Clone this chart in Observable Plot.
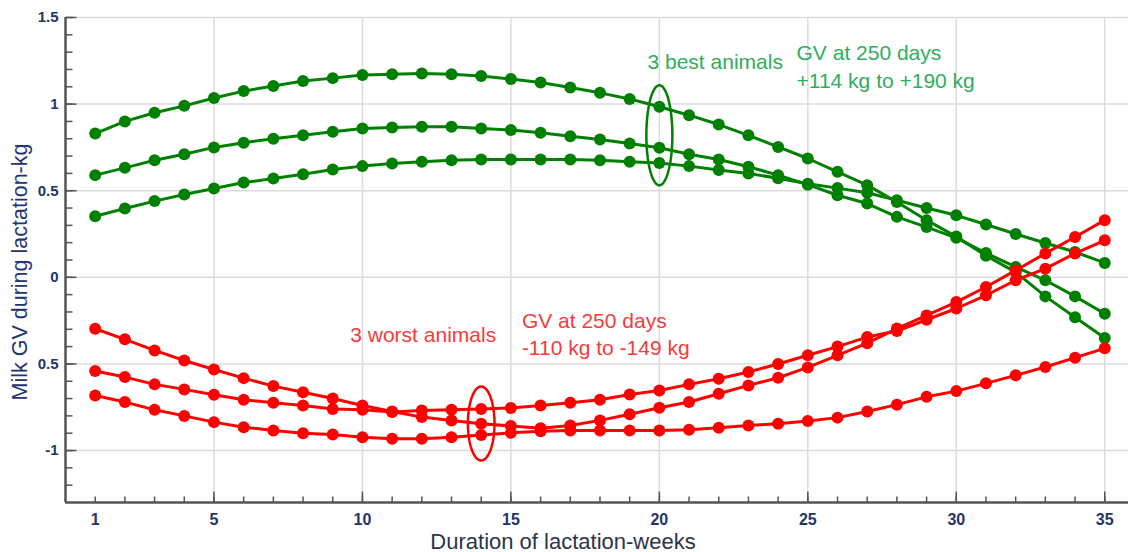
<!DOCTYPE html>
<html>
<head>
<meta charset="utf-8">
<script src="https://cdn.jsdelivr.net/npm/d3@7"></script>
<script src="https://cdn.jsdelivr.net/npm/@observablehq/plot@0.6"></script>
<style>
  html, body { margin: 0; padding: 0; background: #ffffff; }
  #chart svg { display: block; }
</style>
</head>
<body>
<div id="chart"></div>
<script>
// ---- Data ----
const weeks = [1,2,3,4,5,6,7,8,9,10,11,12,13,14,15,16,17,18,19,20,21,22,23,24,25,26,27,28,29,30,31,32,33,34,35];

const best1 = [0.83,0.90,0.95,0.99,1.035,1.075,1.105,1.133,1.15,1.168,1.173,1.177,1.173,1.162,1.145,1.125,1.096,1.065,1.03,0.985,0.936,0.882,0.82,0.753,0.686,0.609,0.532,0.435,0.33,0.235,0.125,0.03,-0.11,-0.23,-0.35];
const best2 = [0.59,0.632,0.676,0.711,0.75,0.777,0.80,0.82,0.84,0.859,0.865,0.869,0.869,0.859,0.85,0.834,0.815,0.796,0.772,0.748,0.711,0.68,0.638,0.59,0.535,0.474,0.426,0.349,0.29,0.228,0.14,0.06,-0.017,-0.11,-0.21];
const best3 = [0.353,0.397,0.44,0.478,0.513,0.547,0.57,0.595,0.622,0.642,0.657,0.667,0.676,0.68,0.68,0.68,0.68,0.676,0.667,0.66,0.642,0.62,0.60,0.572,0.54,0.515,0.488,0.445,0.40,0.358,0.305,0.25,0.198,0.146,0.083];

const worst1 = [-0.297,-0.358,-0.422,-0.48,-0.532,-0.582,-0.628,-0.663,-0.70,-0.74,-0.775,-0.807,-0.826,-0.846,-0.858,-0.872,-0.855,-0.826,-0.79,-0.753,-0.72,-0.672,-0.624,-0.58,-0.52,-0.45,-0.38,-0.296,-0.22,-0.143,-0.056,0.04,0.138,0.233,0.33];
const worst2 = [-0.541,-0.576,-0.618,-0.647,-0.678,-0.707,-0.724,-0.74,-0.76,-0.765,-0.778,-0.769,-0.765,-0.76,-0.754,-0.74,-0.724,-0.707,-0.676,-0.653,-0.618,-0.586,-0.547,-0.50,-0.45,-0.40,-0.345,-0.31,-0.245,-0.18,-0.104,-0.017,0.05,0.138,0.214];
const worst3 = [-0.682,-0.72,-0.765,-0.80,-0.836,-0.865,-0.884,-0.90,-0.907,-0.923,-0.932,-0.932,-0.923,-0.91,-0.898,-0.888,-0.884,-0.884,-0.884,-0.884,-0.88,-0.869,-0.855,-0.845,-0.83,-0.81,-0.775,-0.735,-0.69,-0.657,-0.612,-0.566,-0.518,-0.464,-0.41];

const xTickValues = [1,5,10,15,20,25,30,35];
const xTickLabels = ["1","5","10","15","20","25","30","35"];
const xGridValues = [5,10,15,20,25,30,35];
const xMinorValues = weeks;
const yTickValues = [-1,-0.5,0,0.5,1,1.5];
const yTickLabels = ["-1","0.5","0","0.5","1","1.5"];
const yMinorValues = [-1.2,-1.1,-1,-0.9,-0.8,-0.7,-0.6,-0.5,-0.4,-0.3,-0.2,-0.1,0,0.1,0.2,0.3,0.4,0.5,0.6,0.7,0.8,0.9,1,1.1,1.2,1.3,1.4,1.5];

const xTitle = "Duration of lactation-weeks";
const yTitle = "Milk GV during lactation-kg";

const greenNotes = [
  {week: 19.6, value: 1.202, text: "3 best animals"},
  {week: 24.62, value: 1.093, text: "GV at 250 days\n+114 kg to +190 kg"}
];
const redNotes = [
  {week: 9.59, value: -0.374, text: "3 worst animals"},
  {week: 15.37, value: -0.451, text: "GV at 250 days\n-110 kg to -149 kg"}
];
const greenEllipse = [{week: 20, value: 0.82}];
const redEllipse = [{week: 14, value: -0.844}];

// ---- Build tables ----
function rows(series, name) {
  return series.map((v, i) => ({week: weeks[i], value: v, series: name}));
}
const greenRows = [...rows(best1, "b1"), ...rows(best2, "b2"), ...rows(best3, "b3")];
const redRows = [...rows(worst1, "w1"), ...rows(worst2, "w2"), ...rows(worst3, "w3")];

const xDomain = [0, 35.8];
const yDomain = [-1.3, 1.5];

// custom symbols
function ellipseSymbol(aspect) {
  return {draw(ctx, size) {
    const r = Math.sqrt(size / Math.PI);
    const rx = r * aspect, ry = r, n = 90;
    for (let i = 0; i <= n; i++) {
      const t = 2 * Math.PI * i / n;
      const px = rx * Math.cos(t), py = ry * Math.sin(t);
      if (i === 0) ctx.moveTo(px, py); else ctx.lineTo(px, py);
    }
    ctx.closePath();
  }};
}
const tickUp = {draw(ctx, size) { const L = Math.sqrt(size / Math.PI); ctx.moveTo(0, 0); ctx.lineTo(0, -L); }};
const tickRight = {draw(ctx, size) { const L = Math.sqrt(size / Math.PI); ctx.moveTo(0, 0); ctx.lineTo(L, 0); }};

const axisColor = "#555555";
const tickLabelColor = "#22356b";
const green = "#008000";
const red = "#ff0000";
const greenText = "#2fae5e";
const redText = "#f53c3c";

const chart = Plot.plot({
  width: 1128,
  height: 552,
  marginLeft: 65,
  marginRight: 0,
  marginTop: 17,
  marginBottom: 50,
  style: {fontFamily: "'Liberation Sans', Arial, sans-serif", background: "#ffffff", overflow: "visible"},
  x: {domain: xDomain, axis: null},
  y: {domain: yDomain, axis: null},
  marks: [
    // grid
    Plot.ruleX(xGridValues, {x: d => d, stroke: "#dcdcdc", strokeWidth: 1.5}),
    Plot.ruleY(yTickValues, {y: d => d, stroke: "#dcdcdc", strokeWidth: 1.5}),
    // axis lines
    Plot.ruleX([xDomain[0]], {x: d => d, stroke: axisColor, strokeWidth: 2.5}),
    Plot.ruleY([yDomain[0]], {y: d => d, stroke: axisColor, strokeWidth: 2.5}),
    // inward ticks
    Plot.dot(xMinorValues, {x: d => d, y: () => yDomain[0], symbol: tickUp, r: 6, stroke: axisColor, fill: "none", strokeWidth: 1.5}),
    Plot.dot(xGridValues, {x: d => d, y: () => yDomain[0], symbol: tickUp, r: 11, stroke: axisColor, fill: "none", strokeWidth: 1.5}),
    Plot.dot(yMinorValues, {y: d => d, x: () => xDomain[0], symbol: tickRight, r: 7, stroke: axisColor, fill: "none", strokeWidth: 1.5}),
    Plot.dot(yTickValues, {y: d => d, x: () => xDomain[0], symbol: tickRight, r: 11, stroke: axisColor, fill: "none", strokeWidth: 1.5}),
    // tick labels
    Plot.text(xTickValues, {x: d => d, y: () => yDomain[0], text: (d, i) => xTickLabels[i], dy: 17, lineAnchor: "middle", fontSize: 16, fill: tickLabelColor, fontWeight: "bold"}),
    Plot.text(yTickValues, {y: d => d, x: () => xDomain[0], text: (d, i) => yTickLabels[i], dx: -7, textAnchor: "end", lineAnchor: "middle", fontSize: 15, fill: tickLabelColor, fontWeight: "bold"}),
    // titles
    Plot.text([xTitle], {frameAnchor: "bottom", text: d => d, textAnchor: "middle", dx: -34, dy: 39, lineAnchor: "middle", fontSize: 22, fill: "#2c3448"}),
    Plot.text([yTitle], {frameAnchor: "left", text: d => d, textAnchor: "middle", rotate: -90, dx: -45, dy: 12, lineAnchor: "middle", fontSize: 21.5, fill: "#24356e"}),
    // green series
    Plot.line(greenRows, {x: "week", y: "value", z: "series", stroke: green, strokeWidth: 3}),
    Plot.dot(greenRows, {x: "week", y: "value", fill: green, r: 6}),
    // red series
    Plot.line(redRows, {x: "week", y: "value", z: "series", stroke: red, strokeWidth: 3}),
    Plot.dot(redRows, {x: "week", y: "value", fill: red, r: 6}),
    // ellipses
    Plot.dot(greenEllipse, {x: "week", y: "value", symbol: ellipseSymbol(0.26), r: 50, stroke: green, fill: "none", strokeWidth: 2.5}),
    Plot.dot(redEllipse, {x: "week", y: "value", symbol: ellipseSymbol(0.36), r: 37, stroke: red, fill: "none", strokeWidth: 2.5}),
    // annotations
    Plot.text(greenNotes, {x: "week", y: "value", text: "text", textAnchor: "start", lineAnchor: "bottom", lineHeight: 1.33, fontSize: 21, fill: greenText}),
    Plot.text(redNotes, {x: "week", y: "value", text: "text", textAnchor: "start", lineAnchor: "bottom", lineHeight: 1.33, fontSize: 21, fill: redText})
  ]
});
document.getElementById("chart").appendChild(chart);
</script>
</body>
</html>
